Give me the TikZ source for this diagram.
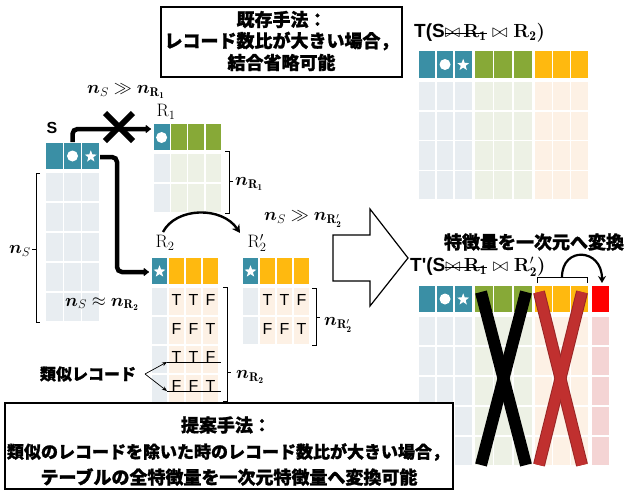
\RequirePackage{fix-cm}
\documentclass[tikz,border=0pt]{standalone}
\usepackage{amsmath,bm}
\usepackage{fontspec}
\usetikzlibrary{arrows.meta,shapes.geometric,calc}
\newfontfamily\cjk[BoldFeatures={FakeBold=1.2}]{Noto Sans CJK JP}
\newfontfamily\lsans{Liberation Sans}
\definecolor{tealc}{HTML}{3A8FA5}
\definecolor{greenc}{HTML}{87A937}
\definecolor{orangec}{HTML}{FFB90F}
\definecolor{bblue}{HTML}{E8EDF1}
\definecolor{bgreen}{HTML}{EDF1E5}
\definecolor{borange}{HTML}{FDF1E5}
\definecolor{redc}{HTML}{FF0000}
\definecolor{bred}{HTML}{F4D4D4}
\definecolor{xred}{HTML}{C0302F}
\definecolor{xredd}{HTML}{9A2626}
\newcommand\tcell[5]{\fill[#5] ({#1+0.8},{#2+0.8}) rectangle ({#3-0.8},{#4-0.8});}
\newcommand\strk[1]{\setbox0\hbox{#1}\rlap{\rule[0.5ex]{\wd0}{0.8pt}}\box0}
\newcommand\fs[1]{\fontsize{#1}{#1}\selectfont}
\tikzset{
  mlab/.style={inner sep=0pt, font=\fs{18}},
  jtxt/.style={inner sep=0pt, font=\cjk\bfseries\fs{18}},
  tf/.style={inner sep=0pt, font=\lsans\fs{16}},
  brk/.style={line width=0.8pt},
  fat/.style={line width=4.5pt, rounded corners=5pt, -{Latex[round,length=6pt,width=10pt]}},
  wstar/.style={star, star points=5, star point ratio=2.4, fill=white, inner sep=0pt, minimum size=12.5pt},
  wdot/.style={circle, fill=white, inner sep=0pt, minimum size=11pt},
}
\begin{document}
\begin{tikzpicture}[x=1pt,y=-1pt]
\useasboundingbox (0,0) rectangle (627,491);

% ---------- S table ----------
\foreach \i in {0,1,2}{
  \tcell{45+\i*18.3}{142}{45+(\i+1)*18.3}{170}{tealc}
  \foreach \r in {0,...,4}{\tcell{45+\i*18.3}{172+\r*30}{45+(\i+1)*18.3}{172+(\r+1)*30}{bblue}}
}
\node[wdot] (sdot) at (72.5,156) {};
\node[wstar] (sstar) at (90.8,156.5) {};
\node[inner sep=0pt, font=\lsans\bfseries\fs{16}] (slab) at (52,128) {S};
\draw[brk] (40,173) -- (36,173) -- (36,322) -- (40,322);
\draw[brk] (36,249) -- (32,249);
\node[mlab, anchor=east] (ns) at (31,251) {$\bm{n}_{S}$};
\node[mlab] (nsapprox) at (102,304) {$\bm{n}_{S}\approx\bm{n}_{\mathbf{R_2}}$};

% ---------- R1 table ----------
\tcell{153}{123}{170.3}{151}{tealc}
\foreach \i in {1,2,3}{\tcell{153+\i*17.3}{123}{153+(\i+1)*17.3}{151}{greenc}}
\foreach \r in {0,1}{
  \tcell{153}{153+\r*30}{170.3}{153+(\r+1)*30}{bblue}
  \foreach \i in {1,2,3}{\tcell{153+\i*17.3}{153+\r*30}{153+(\i+1)*17.3}{153+(\r+1)*30}{bgreen}}
}
\node[wdot] (r1dot) at (161.6,137.5) {};
\node[mlab] (r1lab) at (166,112) {$\mathrm{R}_1$};
\draw[brk] (225,151) -- (229,151) -- (229,213) -- (225,213);
\draw[brk] (229,181) -- (233,181);
\node[mlab, anchor=west] (nr1) at (235,184) {$\bm{n}_{\mathbf{R_1}}$};

% ---------- R2 table ----------
\tcell{151}{257}{168}{285}{tealc}
\foreach \i in {1,2,3}{\tcell{151+\i*17}{257}{151+(\i+1)*17}{285}{orangec}}
\foreach \r in {0,...,3}{
  \tcell{151}{287+\r*29}{168}{287+(\r+1)*29}{bblue}
  \foreach \i in {1,2,3}{\tcell{151+\i*17}{287+\r*29}{151+(\i+1)*17}{287+(\r+1)*29}{borange}}
}
\node[wstar] (r2star) at (159.5,271.5) {};
\node[mlab] (r2lab) at (165,243) {$\mathrm{R}_2$};
\node[tf] (a11) at (176.5,300) {T}; \node[tf] (a12) at (193.5,300) {T}; \node[tf] (a13) at (210.5,300) {F};
\node[tf] (a21) at (176.5,329) {F}; \node[tf] (a22) at (193.5,329) {F}; \node[tf] (a23) at (210.5,329) {T};
\node[tf] (a31) at (176.5,357) {T}; \node[tf] (a32) at (193.5,357) {T}; \node[tf] (a33) at (210.5,357) {F};
\node[tf] (a41) at (176.5,386) {F}; \node[tf] (a42) at (193.5,386) {F}; \node[tf] (a43) at (210.5,386) {T};
\coordinate (s3a) at (167,362); \coordinate (s3b) at (221,362);
\coordinate (s4a) at (167,391); \coordinate (s4b) at (221,391);
\draw[line width=0.9pt] (s3a) -- (s3b);
\draw[line width=0.9pt] (s4a) -- (s4b);
\draw[brk] (223,287) -- (227,287) -- (227,401) -- (223,401);
\draw[brk] (227,372) -- (231,372);
\node[mlab, anchor=west] (nr2) at (236,377) {$\bm{n}_{\mathbf{R_2}}$};
\node[jtxt, font=\cjk\bfseries\fs{16}] (ruiji) at (88,374) {類似レコード};
\coordinate (rj) at (145,374);
\draw[line width=0.7pt, -{Stealth[length=5pt,width=4pt]}] (rj) -- (s3a);
\draw[line width=0.7pt, -{Stealth[length=5pt,width=4pt]}] (rj) -- (s4a);

% ---------- R'2 table ----------
\tcell{242}{257}{259}{285}{tealc}
\foreach \i in {1,2,3}{\tcell{242+\i*17}{257}{242+(\i+1)*17}{285}{orangec}}
\foreach \r in {0,1}{
  \tcell{242}{287+\r*29}{259}{287+(\r+1)*29}{bblue}
  \foreach \i in {1,2,3}{\tcell{242+\i*17}{287+\r*29}{242+(\i+1)*17}{287+(\r+1)*29}{borange}}
}
\node[wstar] (rp2star) at (250.5,271.5) {};
\node[mlab] (rp2lab) at (257,243) {$\mathrm{R}'_2$};
\node[tf] (b11) at (267.5,300) {T}; \node[tf] (b12) at (284.5,300) {T}; \node[tf] (b13) at (301.5,300) {F};
\node[tf] (b21) at (267.5,329) {F}; \node[tf] (b22) at (284.5,329) {F}; \node[tf] (b23) at (301.5,329) {T};
\draw[brk] (312,288) -- (316,288) -- (316,345) -- (312,345);
\draw[brk] (316,317) -- (320,317);
\node[mlab, anchor=west] (nrp2) at (324,325) {$\bm{n}_{\mathbf{R'_2}}$};
\node[mlab] (ggp) at (303,219) {$\bm{n}_{S}\gg\bm{n}_{\mathbf{R'_2}}$};
\coordinate (cva) at (163,232); \coordinate (cvb) at (240,233);
\draw[line width=2.4pt, -{Stealth[length=8pt,width=9pt]}] (cva) .. controls (176,207) and (222,206) .. (cvb);

% ---------- connectors S -> R1, S -> R2 ----------
\coordinate (sa) at (72.5,142); \coordinate (r1in) at (151,129);
\coordinate (sb) at (100,157); \coordinate (r2in) at (149,272);
\draw[fat] (sa) -- (72.5,129) -- (r1in);
\draw[fat] (sb) -- (117,157) -- (117,272) -- (r2in);
\coordinate (xc) at (119,127);
\draw[line width=6pt] ($(xc)+(-14,-14)$) -- ($(xc)+(14,14)$);
\draw[line width=6pt] ($(xc)+(14,-14)$) -- ($(xc)+(-14,14)$);
\node[mlab] (gg1) at (126,91) {$\bm{n}_{S}\gg\bm{n}_{\mathbf{R_1}}$};

% ---------- big arrow ----------
\draw[line width=1.2pt, fill=white, line join=miter] (333,235) -- (370,235) -- (370,209) -- (408,258) -- (370,306) -- (370,281) -- (333,281) -- cycle;

% ---------- T table ----------
\foreach \i in {0,1,2}{
  \tcell{418+\i*18.1}{50}{418+(\i+1)*18.1}{79}{tealc}
  \tcell{474+\i*19.5}{50}{474+(\i+1)*19.5}{79}{greenc}
  \tcell{534+\i*18.3}{50}{534+(\i+1)*18.3}{79}{orangec}
  \foreach \r in {0,...,3}{
    \tcell{418+\i*18.1}{81+\r*29.8}{418+(\i+1)*18.1}{81+(\r+1)*29.8}{bblue}
    \tcell{474+\i*19.5}{81+\r*29.8}{474+(\i+1)*19.5}{81+(\r+1)*29.8}{bgreen}
    \tcell{534+\i*18.3}{81+\r*29.8}{534+(\i+1)*18.3}{81+(\r+1)*29.8}{borange}
  }
}
\node[wdot] (tdot) at (445,64.5) {};
\node[wstar] (tstar) at (463.2,65) {};
\node[inner sep=0pt, anchor=west, font=\fs{19}] (tlab) at (414,33)
  {{\lsans\bfseries T(S}\strk{$\bowtie$\,\textbf{R}$_{\mathbf 1}$}\ $\bowtie$\ \textbf{R}$_{\mathbf 2}$\textbf{)}};

% ---------- T' table ----------
\foreach \i in {0,1,2}{
  \tcell{418+\i*18.1}{285}{418+(\i+1)*18.1}{313}{tealc}
  \tcell{474+\i*19.5}{285}{474+(\i+1)*19.5}{313}{greenc}
  \tcell{534+\i*18.3}{285}{534+(\i+1)*18.3}{313}{orangec}
  \foreach \r in {0,...,4}{
    \tcell{418+\i*18.1}{316+\r*30}{418+(\i+1)*18.1}{316+(\r+1)*30}{bblue}
    \tcell{474+\i*19.5}{316+\r*30}{474+(\i+1)*19.5}{316+(\r+1)*30}{bgreen}
    \tcell{534+\i*18.3}{316+\r*30}{534+(\i+1)*18.3}{316+(\r+1)*30}{borange}
  }
}
\tcell{591}{285}{610}{313}{redc}
\foreach \r in {0,...,4}{\tcell{591}{316+\r*30}{610}{316+(\r+1)*30}{bred}}
\node[wdot] (tpdot) at (445,299) {};
\node[wstar] (tpstar) at (463.2,299.5) {};
\node[inner sep=0pt, anchor=west, font=\fs{19}] (tplab) at (410,267)
  {{\lsans\bfseries T'(S}\strk{$\bowtie$\,\textbf{R}$_{\mathbf 1}$}\ $\bowtie$\ \textbf{R}$'_{\mathbf 2}$\textbf{)}};
% crosses
\draw[line width=12pt] (481,292) -- (526,465);
\draw[line width=12pt] (526,292) -- (481,465);
\draw[line width=12pt, xredd] (539,292) -- (582,465);
\draw[line width=12pt, xredd] (582,292) -- (539,465);
\draw[line width=10pt, xred] (539,292) -- (582,465);
\draw[line width=10pt, xred] (582,292) -- (539,465);
% bracket and transform arrow
\draw[brk] (537,283) -- (537,277) -- (587,277) -- (587,283);
\coordinate (tva) at (562,277); \coordinate (tvb) at (602,283);
\draw[line width=2.2pt, -{Stealth[length=7pt,width=8pt]}] (tva) .. controls (562,246) and (602,248) .. (tvb);
\node[jtxt] (henkan) at (534,242) {特徴量を一次元へ変換};

% ---------- boxes ----------
\draw[line width=1.6pt, fill=white] (161,7) rectangle (402,77);
\node[jtxt] (k1) at (281.5,19.5) {既存手法：};
\node[jtxt] (k2) at (281.5,41) {レコード数比が大きい場合，};
\node[jtxt] (k3) at (281.5,62.5) {結合省略可能};

\draw[line width=1.6pt, fill=white] (5,403) rectangle (453,489);
\node[jtxt] (p1) at (226,425) {提案手法：};
\node[jtxt, font=\cjk\bfseries\fs{17}] (p2) at (228,452) {類似のレコードを除いた時のレコード数比が大きい場合，};
\node[jtxt] (p3) at (229,477) {テーブルの全特徴量を一次元特徴量へ変換可能};
\end{tikzpicture}
\end{document}
